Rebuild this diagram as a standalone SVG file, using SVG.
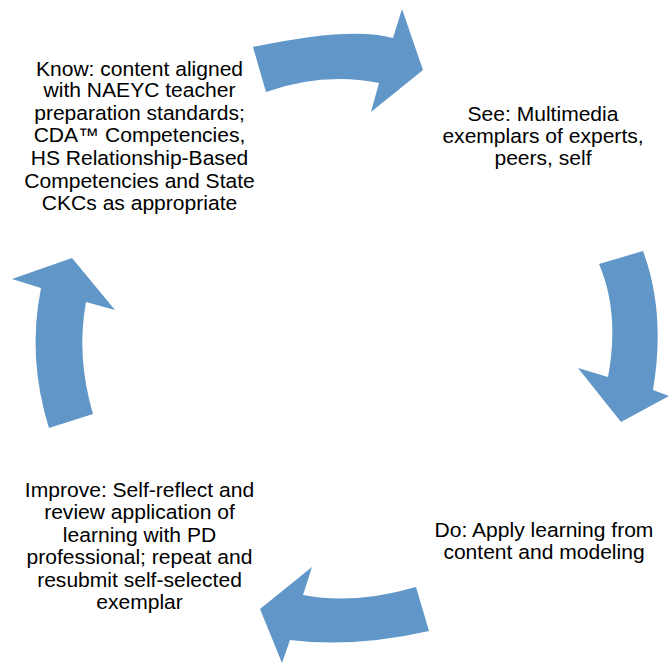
<svg xmlns="http://www.w3.org/2000/svg" width="670" height="664" viewBox="0 0 670 664">
  <style>
    .arrow { fill: #6197C8; stroke: none; }
    .label { font-family: "Liberation Sans", Arial, sans-serif; font-size: 19.5px; fill: #000; text-anchor: middle; }
  </style>
  <rect x="0" y="0" width="670" height="664" fill="#ffffff"/>

  <!-- curved block arrows forming the cycle -->
  <g id="connectors">
    <path id="arrow-top" class="arrow" d="M253,47 Q351,26 393,38 L402,9 L423,70 L371,112 L379,83 Q323,72 266,92 Z"/>
    <path id="arrow-right" class="arrow" d="M599,264 L643,251 Q666,313 653,390 L669,396 L621,422 L578,368 L608,377 Q620,313 599,264 Z"/>
    <path id="arrow-bottom" class="arrow" d="M416,587 L429,631 Q354,648 290,640 L282,663 L260,609 L312,567 L303,595 Q354,605 416,587 Z"/>
    <path id="arrow-left" class="arrow" d="M49,428 L93,414 Q76,356 86,302 L115,310 L72,258 L12,279 L41,288 Q27,358 49,428 Z"/>
  </g>

  <g id="node-know" transform="translate(139.5,0) scale(1.08,1)">
    <text class="label" x="0" y="76">Know: content aligned</text>
    <text class="label" x="0" y="97">with NAEYC teacher</text>
    <text class="label" x="0" y="120">preparation standards;</text>
    <text class="label" x="0" y="142">CDA™ Competencies,</text>
    <text class="label" x="0" y="165">HS Relationship-Based</text>
    <text class="label" x="0" y="188">Competencies and State</text>
    <text class="label" x="0" y="210">CKCs as appropriate</text>
  </g>

  <g id="node-see" transform="translate(543,0) scale(1.08,1)">
    <text class="label" x="0" y="121">See: Multimedia</text>
    <text class="label" x="0" y="143">exemplars of experts,</text>
    <text class="label" x="0" y="165">peers, self</text>
  </g>

  <g id="node-do" transform="translate(544,0) scale(1.08,1)">
    <text class="label" x="0" y="537">Do: Apply learning from</text>
    <text class="label" x="0" y="559">content and modeling</text>
  </g>

  <g id="node-improve" transform="translate(139.5,0) scale(1.08,1)">
    <text class="label" x="0" y="497">Improve: Self-reflect and</text>
    <text class="label" x="0" y="519">review application of</text>
    <text class="label" x="0" y="542">learning with PD</text>
    <text class="label" x="0" y="564">professional; repeat and</text>
    <text class="label" x="0" y="587">resubmit self-selected</text>
    <text class="label" x="0" y="609">exemplar</text>
  </g>
</svg>
